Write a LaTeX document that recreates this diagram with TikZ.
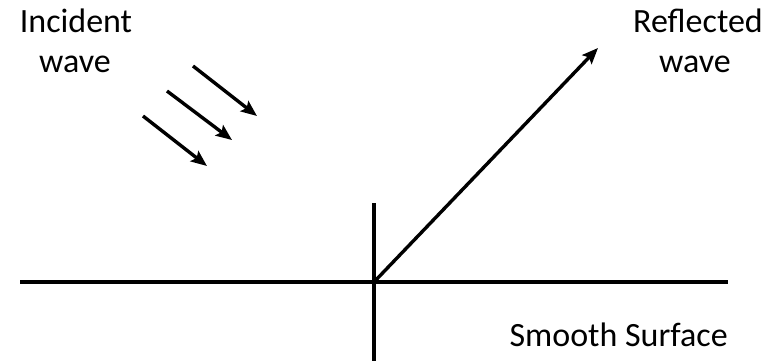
\documentclass[tikz,border=0pt]{standalone}
\usepackage{fontspec}
\setmainfont{Carlito}
\usetikzlibrary{arrows.meta}
\begin{document}
\begin{tikzpicture}[x=1pt, y=-1pt, every node/.style={align=center, inner sep=0pt, font=\fontsize{34}{40}\selectfont},
    ray/.style={-{Stealth[length=16pt, width=13pt, inset=3pt]}, line width=3.4pt}]
    \useasboundingbox (0,0) rectangle (772,361);

    % surface and normal
    \coordinate (sl) at (20,282);
    \coordinate (sr) at (728,282);
    \coordinate (nt) at (374,203);
    \coordinate (nb) at (374,361);
    \coordinate (hit) at (374,282);
    \draw[line width=3.4pt] (sl) -- (sr);
    \draw[line width=3.4pt] (nt) -- (nb);

    % incident rays
    \coordinate (i1s) at (193,66);  \coordinate (i1e) at (257,116);
    \coordinate (i2s) at (167,91);  \coordinate (i2e) at (232,140);
    \coordinate (i3s) at (143,116); \coordinate (i3e) at (207,166);
    \draw[ray] (i1s) -- (i1e);
    \draw[ray] (i2s) -- (i2e);
    \draw[ray] (i3s) -- (i3e);

    % reflected ray
    \coordinate (rt) at (598,48);
    \draw[ray] (hit) -- (rt);

    \node[anchor=base] (inc) at (76,33) {Incident};
    \node[anchor=base] (incw) at (75,73) {wave};
    \node[anchor=base] (ref) at (698,33) {Reflected};
    \node[anchor=base] (refw) at (695,73) {wave};
    \node[anchor=base east] (surf) at (728,346) {Smooth Surface};
\end{tikzpicture}
\end{document}
